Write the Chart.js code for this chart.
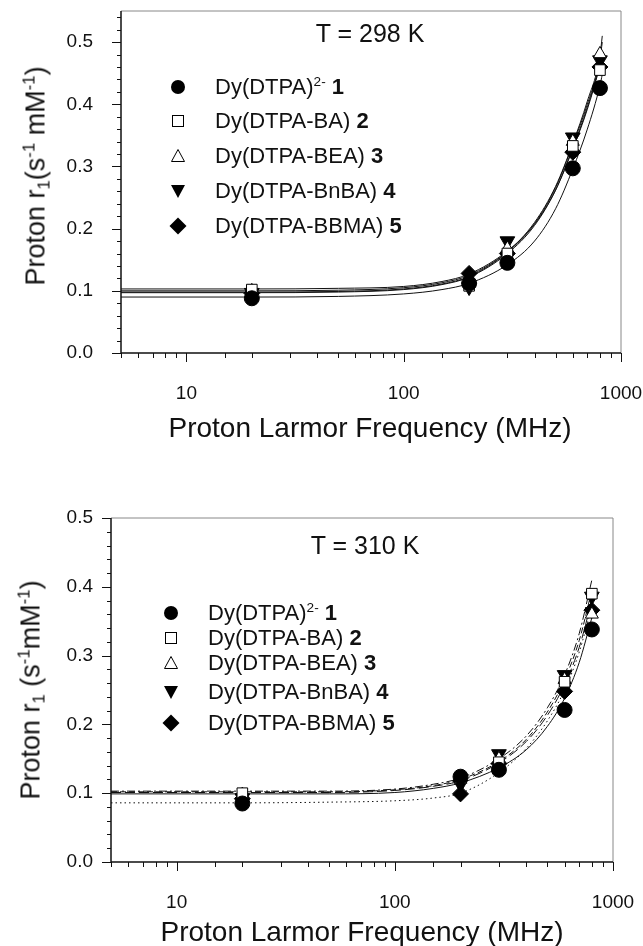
<!DOCTYPE html>
<html>
<head>
<meta charset="utf-8">
<title>Proton relaxivity of Dy(DTPA) complexes</title>
<script src="https://cdn.jsdelivr.net/npm/chart.js"></script>
<style>
  body { margin: 0; background: #fff; }
  #page { position: relative; width: 643px; height: 946px; overflow: hidden;
          font-family: "Liberation Sans", Arial, sans-serif; color: #111; }
  #page canvas { position: absolute; left: 0; }
  .txt { position: absolute; white-space: nowrap; line-height: 1; transform: translate(-50%, -50%); }
  .ytitle { transform: translate(-50%, -50%) rotate(-90deg); }
  .leg { position: absolute; white-space: nowrap; line-height: 1; font-size: 22px; transform: translateY(-50%); }
  .mark { position: absolute; }
  sup, sub { font-size: 0.62em; line-height: 0; }
  sup { vertical-align: 0.6em; }
  sub { vertical-align: -0.3em; }
</style>
</head>
<body>
<div id="page">
  <canvas id="chart298" width="643" height="460" style="top:0"></canvas>
  <canvas id="chart310" width="643" height="476" style="top:470px"></canvas>
</div>

<script>
  // ---- data ----
  const compoundNames = ['Dy(DTPA)<sup>2-</sup>', 'Dy(DTPA-BA)', 'Dy(DTPA-BEA)', 'Dy(DTPA-BnBA)', 'Dy(DTPA-BBMA)'];
  const freqMHz = [20, 200, 300, 600, 800];

  // measured r1 at 298 K, one row per compound 1..5
  const r1_298_c1 = [0.088, 0.112, 0.145, 0.297, 0.426];
  const r1_298_c2 = [0.102, 0.108, 0.160, 0.333, 0.455];
  const r1_298_c3 = [0.100, 0.112, 0.168, 0.340, 0.481];
  const r1_298_c4 = [0.097, 0.106, 0.180, 0.347, 0.471];
  const r1_298_c5 = [0.096, 0.128, 0.160, 0.323, 0.460];

  // measured r1 at 310 K
  const r1_310_c1 = [0.085, 0.124, 0.134, 0.221, 0.338];
  const r1_310_c2 = [0.100, 0.122, 0.145, 0.262, 0.390];
  const r1_310_c3 = [0.098, 0.120, 0.150, 0.265, 0.360];
  const r1_310_c4 = [0.093, 0.113, 0.157, 0.272, 0.386];
  const r1_310_c5 = [0.092, 0.099, 0.143, 0.248, 0.366];

  // fitted curves, read at these frequencies
  const fitFreq298 = [5, 20, 50, 100, 150, 200, 300, 400, 500, 600, 700, 800, 820];
  const fit298_c1 = [0.090, 0.090, 0.091, 0.095, 0.102, 0.112, 0.142, 0.180, 0.232, 0.296, 0.360, 0.430, 0.448];
  const fit298_c2 = [0.097, 0.097, 0.098, 0.102, 0.110, 0.122, 0.160, 0.205, 0.262, 0.330, 0.395, 0.465, 0.482];
  const fit298_c3 = [0.100, 0.100, 0.101, 0.105, 0.113, 0.125, 0.163, 0.210, 0.268, 0.337, 0.405, 0.478, 0.510];
  const fit298_c4 = [0.098, 0.098, 0.099, 0.103, 0.111, 0.123, 0.162, 0.208, 0.266, 0.335, 0.400, 0.472, 0.500];
  const fit298_c5 = [0.103, 0.103, 0.104, 0.107, 0.115, 0.127, 0.164, 0.207, 0.262, 0.328, 0.392, 0.462, 0.478];

  const fitFreq310 = [5, 20, 50, 100, 150, 200, 300, 400, 500, 600, 700, 800];
  const fit310_c1 = [0.099, 0.099, 0.099, 0.101, 0.107, 0.115, 0.137, 0.163, 0.197, 0.238, 0.290, 0.355];
  const fit310_c2 = [0.102, 0.102, 0.102, 0.105, 0.111, 0.120, 0.146, 0.178, 0.218, 0.265, 0.322, 0.395];
  const fit310_c3 = [0.101, 0.101, 0.101, 0.104, 0.110, 0.118, 0.144, 0.175, 0.213, 0.258, 0.312, 0.380];
  const fit310_c4 = [0.103, 0.103, 0.103, 0.106, 0.113, 0.122, 0.150, 0.183, 0.224, 0.272, 0.332, 0.410];
  const fit310_c5 = [0.086, 0.086, 0.087, 0.089, 0.093, 0.100, 0.130, 0.165, 0.205, 0.250, 0.305, 0.372];

  const xTickLabels = [10, 100, 1000];
  const yTickLabels = ['0.0', '0.1', '0.2', '0.3', '0.4', '0.5'];

  // ---- styles ----
  const FONT = '"Liberation Sans", Arial, sans-serif';
  Chart.defaults.font.family = FONT;
  Chart.defaults.color = '#111';

  const pointStyles = ['circle', 'rect', 'triangle', 'triangle', 'rectRot'];
  const pointRadii = [7.5, 7.5, 7.5, 8.5, 8];
  const pointRotations = [0, 0, 0, 180, 0];
  const pointFills = ['#000', '#fff', '#fff', '#000', '#000'];
  const dashes298 = [[], [], [], [], []];
  const dashes310 = [[], [6, 3], [10, 4], [8, 3, 2, 3], [1.5, 3]];

  // frame + tick marks, drawn from the chart's own scales
  const frameTicks = {
    id: 'frameTicks',
    afterDraw(chart) {
      const { ctx, chartArea: a, scales: { x, y } } = chart;
      ctx.save();
      ctx.lineWidth = 1;
      ctx.strokeStyle = '#888';
      ctx.beginPath();
      ctx.moveTo(a.left, a.top); ctx.lineTo(a.right, a.top); ctx.lineTo(a.right, a.bottom);
      ctx.stroke();
      ctx.strokeStyle = '#111';
      ctx.lineWidth = 1.5;
      ctx.beginPath();
      ctx.moveTo(a.left, a.top); ctx.lineTo(a.left, a.bottom); ctx.lineTo(a.right, a.bottom);
      ctx.stroke();
      ctx.lineWidth = 1;
      ctx.beginPath();
      x.ticks.forEach(t => {
        const px = Math.round(x.getPixelForValue(t.value)) + 0.5;
        const len = xTickLabels.includes(t.value) ? 9 : 5;
        ctx.moveTo(px, a.bottom); ctx.lineTo(px, a.bottom + len);
      });
      y.ticks.forEach(t => {
        const py = Math.round(y.getPixelForValue(t.value)) + 0.5;
        const major = Math.abs(t.value * 10 - Math.round(t.value * 10)) < 1e-6;
        const len = major ? 9 : 4;
        ctx.moveTo(a.left - len, py); ctx.lineTo(a.left, py);
      });
      ctx.stroke();
      ctx.restore();
    }
  };

  function buildChart(id, cfg) {
    const datasets = [];
    compoundNames.forEach((name, i) => {
      datasets.push({
        label: 'fit ' + (i + 1),
        data: cfg.fitFreq.map((f, j) => ({ x: f, y: cfg.fit[i][j] })),
        showLine: true, pointRadius: 0, borderColor: '#111', borderWidth: 1,
        borderDash: cfg.dashes[i], cubicInterpolationMode: 'monotone', order: 2
      });
      datasets.push({
        label: name,
        data: freqMHz.map((f, j) => ({ x: f, y: cfg.r1[i][j] })),
        showLine: false,
        pointStyle: pointStyles[i], pointRadius: pointRadii[i], pointRotation: pointRotations[i],
        pointBackgroundColor: pointFills[i], pointBorderColor: '#000', pointBorderWidth: 1,
        order: 1
      });
    });

    return new Chart(document.getElementById(id), {
      type: 'scatter',
      data: { datasets },
      options: {
        responsive: false,
        animation: false,
        events: [],
        layout: { padding: cfg.padding },
        plugins: { legend: { display: false }, tooltip: { enabled: false } },
        scales: {
          x: {
            type: 'logarithmic', min: 5, max: 1000,
            grid: { display: false }, border: { display: false },
            afterFit: s => { s.height = cfg.xHeight; s.paddingLeft = 0; s.paddingRight = 0; },
            ticks: {
              autoSkip: false, maxRotation: 0, padding: 21,
              font: { size: 19 },
              callback: v => xTickLabels.includes(v) ? String(v) : ''
            }
          },
          y: {
            min: 0, max: cfg.yMax,
            grid: { display: false }, border: { display: false },
            afterFit: s => { s.width = cfg.yWidth; s.paddingTop = 0; s.paddingBottom = 0; },
            afterBuildTicks: s => {
              const t = [];
              for (let k = 0; k * 0.02 <= cfg.yMax + 1e-9; k++) t.push({ value: +(k * 0.02).toFixed(2) });
              s.ticks = t;
            },
            ticks: {
              autoSkip: false, padding: cfg.yPad,
              font: { size: 19 },
              callback: v => {
                const k = Math.round(v * 10);
                return Math.abs(v * 10 - k) < 1e-6 && yTickLabels[k] !== undefined ? yTickLabels[k] : '';
              }
            }
          }
        }
      },
      plugins: [frameTicks]
    });
  }

  buildChart('chart298', {
    fitFreq: fitFreq298,
    fit: [fit298_c1, fit298_c2, fit298_c3, fit298_c4, fit298_c5],
    r1: [r1_298_c1, r1_298_c2, r1_298_c3, r1_298_c4, r1_298_c5],
    dashes: dashes298, yMax: 0.55,
    padding: { top: 11, right: 22, left: 0, bottom: 0 },
    xHeight: 107, yWidth: 121, yPad: 20
  });

  buildChart('chart310', {
    fitFreq: fitFreq310,
    fit: [fit310_c1, fit310_c2, fit310_c3, fit310_c4, fit310_c5],
    r1: [r1_310_c1, r1_310_c2, r1_310_c3, r1_310_c4, r1_310_c5],
    dashes: dashes310, yMax: 0.5,
    padding: { top: 48, right: 30, left: 0, bottom: 0 },
    xHeight: 84, yWidth: 111, yPad: 10
  });

  // ---- text overlays (titles, legend) ----
  const page = document.getElementById('page');

  function addText(html, x, y, size, cls) {
    const d = document.createElement('div');
    d.className = cls || 'txt';
    d.style.left = x + 'px';
    d.style.top = y + 'px';
    d.style.fontSize = size + 'px';
    d.innerHTML = html;
    page.appendChild(d);
  }

  const markerSvg = [
    '<circle cx="9" cy="9" r="7" fill="#000"/>',
    '<rect x="3.5" y="3.5" width="11" height="11" fill="#fff" stroke="#000" stroke-width="1"/>',
    '<polygon points="9,2.5 15.5,14.5 2.5,14.5" fill="#fff" stroke="#000" stroke-width="1"/>',
    '<polygon points="2,3 16,3 9,16" fill="#000"/>',
    '<polygon points="9,0.5 17.5,9 9,17.5 0.5,9" fill="#000"/>'
  ];

  function addLegend(markerX, textX, rows) {
    compoundNames.forEach((name, i) => {
      const m = document.createElement('div');
      m.className = 'mark';
      m.style.left = (markerX - 9) + 'px';
      m.style.top = (rows[i] - 9) + 'px';
      m.innerHTML = '<svg width="18" height="18" viewBox="0 0 18 18">' + markerSvg[i] + '</svg>';
      page.appendChild(m);
      addText(name + ' <b>' + (i + 1) + '</b>', textX, rows[i], 22, 'leg');
    });
  }

  // top panel, T = 298 K
  addText('T = 298 K', 370, 33, 25);
  addText('Proton r<sub>1</sub>(s<sup>-1</sup> mM<sup>-1</sup>)', 36, 176, 27, 'txt ytitle');
  addText('Proton Larmor Frequency (MHz)', 370, 428, 28);
  addLegend(178, 215, [87, 121, 156, 191, 226]);

  // bottom panel, T = 310 K
  addText('T = 310 K', 365, 545, 25);
  addText('Proton r<sub>1</sub> (s<sup>-1</sup>mM<sup>-1</sup>)', 31, 690, 27, 'txt ytitle');
  addText('Proton Larmor Frequency (MHz)', 362, 932, 28);
  addLegend(171, 208, [613, 638, 663, 692, 723]);
</script>
</body>
</html>
